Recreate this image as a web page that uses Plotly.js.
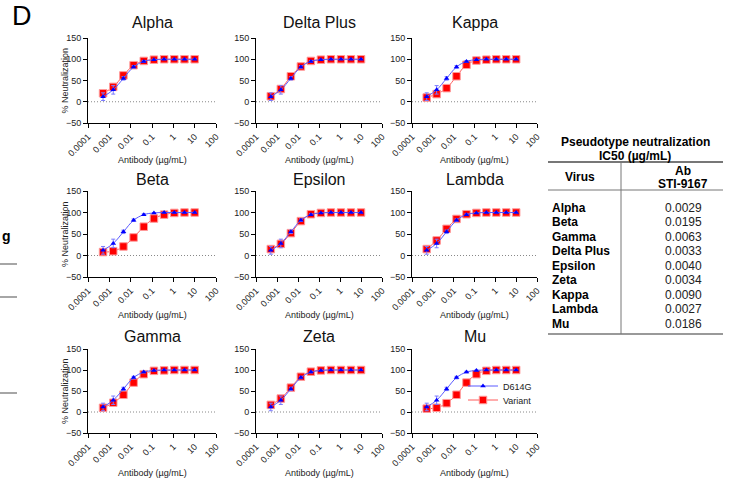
<!DOCTYPE html>
<html><head><meta charset="utf-8">
<script src="https://cdn.plot.ly/plotly-3.0.1.min.js"></script>
<style>body{margin:0;background:#fff}#chart{width:730px;height:481px}</style>
</head><body><div id="chart"></div>
<script>
// ---- data ----
const concentrations = [0.000508, 0.001524, 0.004572, 0.01372, 0.04115, 0.1235, 0.3704, 1.111, 3.333, 10];
const panelNames = ['Alpha', 'Delta Plus', 'Kappa', 'Beta', 'Epsilon', 'Lambda', 'Gamma', 'Zeta', 'Mu'];
const d614gValues = [12, 28, 55, 82, 95, 99, 100, 100, 100, 100];
const d614gErrors = [9, 10, 4, 3, 2, 1, 1, 1, 1, 1];
const alphaVariant = [20, 35, 62, 86, 96, 99, 100, 100, 100, 100];
const deltaPlusVariant = [13, 30, 60, 83, 96, 99, 100, 100, 100, 100];
const kappaVariant = [10, 18, 32, 60, 87, 97, 99, 100, 100, 100];
const betaVariant = [8, 10, 21, 42, 67, 86, 95, 99, 100, 100];
const epsilonVariant = [15, 27, 52, 80, 96, 99, 100, 100, 100, 100];
const lambdaVariant = [15, 35, 62, 85, 96, 99, 100, 100, 100, 100];
const gammaVariant = [10, 22, 41, 70, 90, 98, 99, 100, 100, 100];
const zetaVariant = [17, 32, 58, 84, 96, 99, 100, 100, 100, 100];
const muVariant = [8, 10, 21, 41, 70, 90, 98, 100, 100, 100];
const variantErrors = [4, 4, 5, 4, 2, 1, 1, 1, 1, 1];
const variantSeries = [alphaVariant, deltaPlusVariant, kappaVariant, betaVariant, epsilonVariant,
                       lambdaVariant, gammaVariant, zetaVariant, muVariant];
const xTickVals = [0.0001, 0.001, 0.01, 0.1, 1, 10, 100];
const xTickText = ['0.0001', '0.001', '0.01', '0.1', '1', '10', '100'];
const yTickVals = [-50, 0, 50, 100, 150];
const tableTitle = ['Pseudotype neutralization', 'IC50 (µg/mL)'];
const tableHeader = ['Virus', 'Ab', 'STI-9167'];
const tableViruses = ['Alpha', 'Beta', 'Gamma', 'Delta Plus', 'Epsilon', 'Zeta', 'Kappa', 'Lambda', 'Mu'];
const tableIC50 = ['0.0029', '0.0195', '0.0063', '0.0033', '0.0040', '0.0034', '0.0090', '0.0027', '0.0186'];

// ---- layout helpers ----
const W = 730, H = 481;
const PX = p => p / W;
const PY = p => 1 - p / H;
const FONT = 'Arial, "Liberation Sans", Helvetica, sans-serif';
const cols = [[88, 216], [256, 382], [412, 537]];
const rows = [[38, 123], [191, 277], [349, 433]];
const titleY = [22, 179, 336];
const xTitleY = [160, 315, 473];

const traces = [];
const legendBase = {x: PX(463), xanchor: 'left', yanchor: 'middle',
                    font: {family: FONT, size: 9, color: '#222'}, bgcolor: 'rgba(0,0,0,0)'};
const layout = {
  width: W, height: H,
  margin: {l: 0, r: 0, t: 0, b: 0},
  paper_bgcolor: '#fff', plot_bgcolor: 'rgba(0,0,0,0)',
  font: {family: FONT, size: 9, color: '#222'},
  showlegend: true,
  legend: Object.assign({}, legendBase, {y: PY(386)}),
  legend2: Object.assign({}, legendBase, {y: PY(400)}),
  annotations: [], shapes: []
};

panelNames.forEach((name, i) => {
  const r = Math.floor(i / 3), c = i % 3;
  const k = i === 0 ? '' : String(i + 1);
  const xa = 'x' + k, ya = 'y' + k;
  const isMu = name === 'Mu';
  traces.push({
    x: concentrations, y: variantSeries[i], xaxis: xa, yaxis: ya,
    type: 'scatter', mode: 'lines+markers', name: 'Variant',
    showlegend: isMu, legend: 'legend2',
    line: {color: '#ff5a5a', width: 1, shape: 'spline', smoothing: 1},
    marker: {symbol: 'square', size: 7.5, color: '#ff0000', line: {color: '#ff9a9a', width: 1}},
    error_y: {type: 'data', array: variantErrors, color: '#ff8080', thickness: 1, width: 2}
  });
  traces.push({
    x: concentrations, y: d614gValues, xaxis: xa, yaxis: ya,
    type: 'scatter', mode: 'lines+markers', name: 'D614G',
    showlegend: isMu, legend: 'legend',
    line: {color: '#5a5aff', width: 1, shape: 'spline', smoothing: 1},
    marker: {symbol: 'triangle-up', size: 5, color: '#0000ff'},
    error_y: {type: 'data', array: d614gErrors, color: '#7a7aff', thickness: 1, width: 2}
  });
  layout['xaxis' + k] = {
    type: 'log', range: [-4, 2], domain: [PX(cols[c][0]), PX(cols[c][1])], anchor: ya,
    tickvals: xTickVals, ticktext: xTickText, tickangle: -45,
    ticks: 'outside', ticklen: 4, tickwidth: 1, tickcolor: '#000',
    showline: true, linecolor: '#000', linewidth: 1, showgrid: false, zeroline: false,
    tickfont: {family: FONT, size: 9, color: '#222'}
  };
  layout['yaxis' + k] = {
    range: [-50, 150], domain: [PY(rows[r][1]), PY(rows[r][0])], anchor: xa,
    tickvals: yTickVals, ticks: 'outside', ticklen: 4, tickwidth: 1, tickcolor: '#000',
    showline: true, linecolor: '#000', linewidth: 1, showgrid: false, zeroline: false,
    tickfont: {family: FONT, size: 9, color: '#222'}
  };
  layout.shapes.push({type: 'line', xref: xa + ' domain', yref: ya, x0: 0, x1: 1, y0: 0, y1: 0,
                      line: {color: '#888', width: 1, dash: '1px,2px'}, layer: 'below'});
  const cx = PX((cols[c][0] + cols[c][1]) / 2);
  layout.annotations.push({text: name, xref: 'paper', yref: 'paper', x: cx, y: PY(titleY[r]),
                           xanchor: 'center', yanchor: 'middle', showarrow: false,
                           font: {family: FONT, size: 16, color: '#111'}});
  layout.annotations.push({text: 'Antibody (µg/mL)', xref: 'paper', yref: 'paper', x: cx, y: PY(xTitleY[r]),
                           xanchor: 'center', yanchor: 'middle', showarrow: false,
                           font: {family: FONT, size: 9, color: '#222'}});
  if (c === 0) {
    layout.annotations.push({text: '% Neutralization', textangle: -90, xref: 'paper', yref: 'paper',
                             x: PX(65), y: PY((rows[r][0] + rows[r][1]) / 2), xanchor: 'center', yanchor: 'middle',
                             showarrow: false, font: {family: FONT, size: 9, color: '#222'}});
  }
});

// panel label
layout.annotations.push({text: 'D', xref: 'paper', yref: 'paper', x: PX(10), y: PY(16), xanchor: 'left',
                         yanchor: 'middle', showarrow: false, font: {family: FONT, size: 27, color: '#000'}});
// cropped neighbouring panel fragment
layout.annotations.push({text: '<b>g</b>', xref: 'paper', yref: 'paper', x: PX(0), y: PY(236), xanchor: 'left',
                         yanchor: 'middle', showarrow: false, font: {family: FONT, size: 14, color: '#000'}});
[264, 297, 393].forEach(yy => layout.shapes.push({type: 'line', xref: 'paper', yref: 'paper',
  x0: 0, x1: PX(17), y0: PY(yy), y1: PY(yy), line: {color: '#888', width: 1.5}}));

// ---- IC50 table ----
const TF = 12;
const tL = 548, tR = 723, tDiv = 621, tTop = 162, tHead = 190, tBot = 334;
const ann = (t, x, y, anchor, bold, color) => layout.annotations.push({
  text: bold ? '<b>' + t + '</b>' : t, xref: 'paper', yref: 'paper', x: PX(x), y: PY(y),
  xanchor: anchor, yanchor: 'middle', showarrow: false, font: {family: FONT, size: TF, color: color || '#000'}});
ann(tableTitle[0], 635, 142, 'center', true);
ann(tableTitle[1], 635, 156, 'center', true);
ann(tableHeader[0], 580, 177, 'center', true);
ann(tableHeader[1], 683, 171, 'center', true);
ann(tableHeader[2], 683, 184, 'center', true);
const rowStep = 14.5, row0 = 207.5;
tableViruses.forEach((v, j) => {
  ann(v, 550, row0 + j * rowStep, 'left', true);
  ann(tableIC50[j], 683, row0 + j * rowStep, 'center', false, '#222');
});
const hline = (y, w) => layout.shapes.push({type: 'line', xref: 'paper', yref: 'paper',
  x0: PX(tL), x1: PX(tR), y0: PY(y), y1: PY(y), line: {color: '#777', width: w}});
hline(tTop, 2); hline(tHead, 1); hline(tBot, 1.5);
layout.shapes.push({type: 'line', xref: 'paper', yref: 'paper', x0: PX(tDiv), x1: PX(tDiv), y0: PY(tTop), y1: PY(tBot),
                    line: {color: '#777', width: 1}});

Plotly.newPlot('chart', traces, layout, {displayModeBar: false, staticPlot: true});
</script>
</body></html>
